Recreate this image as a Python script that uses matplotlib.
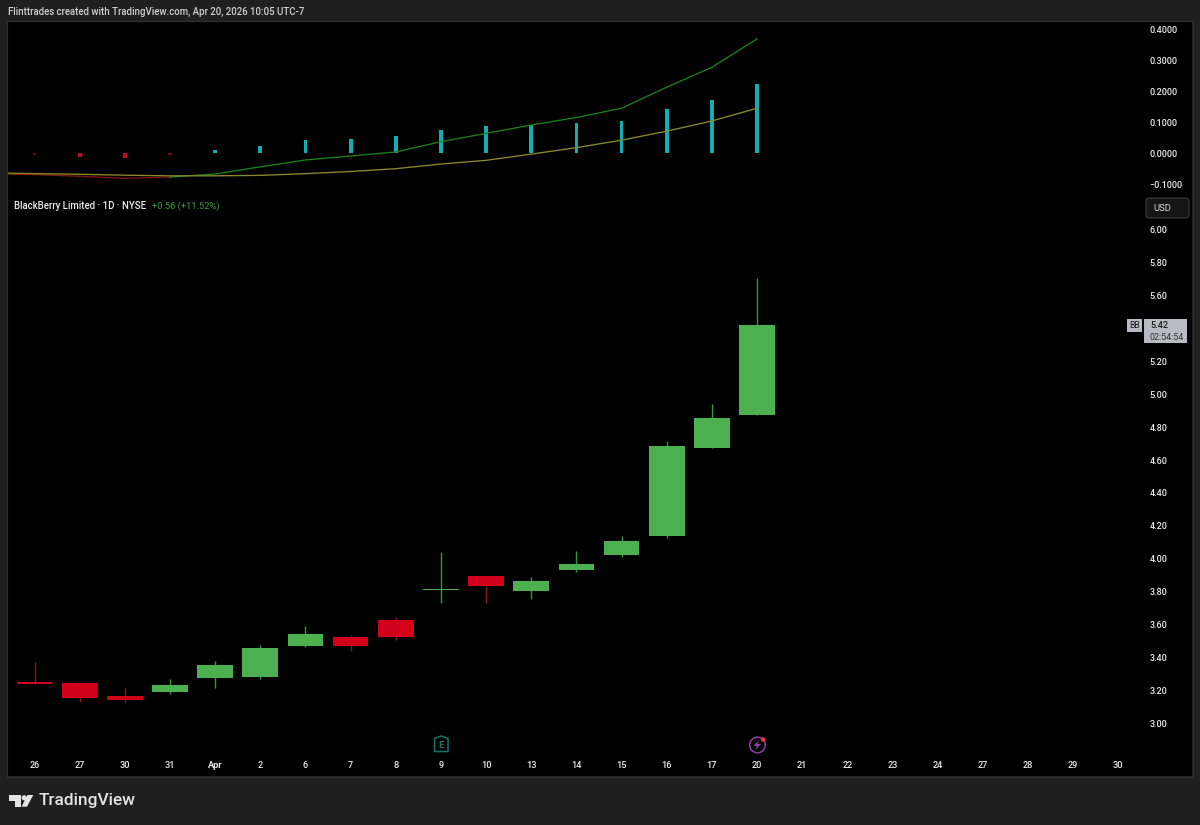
import matplotlib
matplotlib.use("Agg")
import matplotlib.pyplot as plt
from matplotlib.patches import Rectangle, FancyBboxPatch, Polygon, Circle
from matplotlib.transforms import Affine2D

plt.rcParams['font.family'] = ['Roboto', 'DejaVu Sans']

# ---- data ----
date_labels = ['26', '27', '30', '31', 'Apr', '2', '6', '7', '8', '9', '10', '13', '14', '15', '16', '17', '20',
               '21', '22', '23', '24', '27', '28', '29', '30']
opens  = [3.252, 3.244, 3.167, 3.193, 3.274, 3.284, 3.473, 3.525, 3.627, 3.812, 3.898, 3.803, 3.932, 4.025, 4.141, 4.675, 4.874]
closes = [3.240, 3.155, 3.145, 3.234, 3.355, 3.459, 3.545, 3.473, 3.524, 3.818, 3.833, 3.865, 3.967, 4.107, 4.687, 4.857, 5.418]
highs  = [3.375, 3.244, 3.214, 3.268, 3.381, 3.477, 3.592, 3.537, 3.649, 4.040, 3.898, 3.888, 4.048, 4.139, 4.716, 4.938, 5.704]
lows   = [3.240, 3.130, 3.123, 3.179, 3.218, 3.268, 3.467, 3.440, 3.507, 3.730, 3.730, 3.758, 3.920, 4.013, 4.125, 4.675, 4.874]

hist = [-0.004, -0.012, -0.015, -0.005, 0.010, 0.025, 0.0435, 0.048, 0.056, 0.076, 0.089, 0.093, 0.097, 0.105, 0.143, 0.174, 0.225]
hist_colors = ['#6e0a1c', '#c00a2a', '#c00a2a', '#6e0a1c'] + ['#12aeb4'] * 13

line_x = list(range(-1, 17))
signal = [-0.062, -0.065, -0.067, -0.070, -0.072, -0.072, -0.0705, -0.065, -0.058, -0.049, -0.034, -0.022, -0.002,
          0.019, 0.043, 0.072, 0.105, 0.146]
macd = [-0.066, -0.068, -0.0735, -0.080, -0.076, -0.066, -0.043, -0.021, -0.008, 0.005, 0.038, 0.065, 0.092,
        0.116, 0.146, 0.214, 0.278, 0.370]

osc_ticks = [0.4, 0.3, 0.2, 0.1, 0.0, -0.1]
osc_labels = ['0.4000', '0.3000', '0.2000', '0.1000', '0.0000', '\u22120.1000']
price_ticks = [6.0, 5.8, 5.6, 5.2, 5.0, 4.8, 4.6, 4.4, 4.2, 4.0, 3.8, 3.6, 3.4, 3.2, 3.0]

# ---- palette ----
BG = '#1f1f1f'
GREEN = '#4caf50'
RED = '#d2001a'
GREEN_W = '#2f9a38'
RED_W = '#8a1818'
TXT = '#ececec'

W, H = 1200, 825
fig = plt.figure(figsize=(12, 8.25), dpi=100, facecolor=BG)
px = Affine2D().scale(1, -1).translate(0, H)


def axes_px(x0, y0, x1, y1):
    return fig.add_axes([x0 / W, 1 - y1 / H, (x1 - x0) / W, (y1 - y0) / H], facecolor='black')


L, R = 8, 1192
ax_o = axes_px(L, 22, R, 192)
ax_p = axes_px(L, 192, R, 776)

xlim = ((L - 34.5) / 45.16, (R - 34.5) / 45.16)
for ax in (ax_o, ax_p):
    ax.set_xlim(*xlim)
    for s in ax.spines.values():
        s.set_visible(False)
ax_o.set_ylim(-0.1242, 0.4242)
ax_p.set_ylim(2.681, 6.2277)

# oscillator pane
ax_o.bar(range(len(hist)), hist, width=0.085, color=hist_colors, linewidth=0, zorder=2)
ax_o.plot(line_x[:5], macd[:5], color='#7c1410', lw=0.95, zorder=3)
ax_o.plot(line_x[4:], macd[4:], color='#1c7f1c', lw=0.95, zorder=3)
ax_o.plot(line_x, signal, color='#8a8a2a', lw=0.95, zorder=4)
ax_o.set_xticks([])
ax_o.yaxis.tick_right()
ax_o.set_yticks(osc_ticks)
ax_o.set_yticklabels(osc_labels)
ax_o.tick_params(axis='y', length=0, pad=-30.5, labelsize=6.5, labelcolor=TXT)
for t in ax_o.get_yticklabels():
    t.set_ha('left')
    t.set_fontweight('medium')

# price pane
for i, (o, c, h, l) in enumerate(zip(opens, closes, highs, lows)):
    up = c >= o
    ax_p.plot([i, i], [l, h], color=GREEN_W if up else RED_W, lw=1.0, solid_capstyle='butt', zorder=2)
    body_h = abs(c - o)
    ax_p.bar(i, body_h, bottom=min(o, c), width=0.79, color=GREEN if up else RED, linewidth=0, zorder=3)
ax_p.yaxis.tick_right()
ax_p.set_yticks(price_ticks)
ax_p.set_yticklabels([f'{v:.2f}' for v in price_ticks])
ax_p.tick_params(axis='y', length=0, pad=-30.5, labelsize=6.5, labelcolor=TXT)
for t in ax_p.get_yticklabels():
    t.set_ha('left')
    t.set_fontweight('medium')
ax_p.set_xticks(range(len(date_labels)))
ax_p.set_xticklabels(date_labels)
ax_p.tick_params(axis='x', length=0, pad=-11, labelsize=6.6, labelcolor=TXT)
for t in ax_p.get_xticklabels():
    t.set_fontweight('medium')
ax_p.get_xticklabels()[4].set_fontweight('bold')

# frame
fig.add_artist(Rectangle((L - 1, 21), R - L + 2, 756, fill=False, ec='#303030', lw=0.8, transform=px))


def ptext(x, y, s, **kw):
    kw.setdefault('va', 'center')
    kw.setdefault('ha', 'left')
    kw.setdefault('fontsize', 6.6)
    kw.setdefault('color', TXT)
    return fig.text(x / W, 1 - y / H, s, **kw)


ptext(8, 12, 'Flinttrades created with TradingView.com, Apr 20, 2026 10:05 UTC-7', fontsize=6.9, color='#d0d0d0',
      fontweight='medium')
ptext(14, 206, 'BlackBerry Limited \u00b7 1D \u00b7 NYSE', fontsize=6.95, fontweight='medium')
ptext(152, 206, '+0.56 (+11.52%)', fontsize=6.7, color='#3f9a45')

# USD box
fig.add_artist(FancyBboxPatch((1146, 198), 43, 20, boxstyle='round,pad=0,rounding_size=3', fc='#161616', ec='#3a3a3a',
                              lw=0.8, transform=px))
ptext(1153, 208.5, 'USD', fontsize=6.8, color='#d8d8d8')

# last price tag
fig.add_artist(Rectangle((1127, 319), 15, 13, fc='#b8bac4', ec='none', transform=px))
fig.add_artist(Rectangle((1144, 319), 43, 24, fc='#b8bac4', ec='none', transform=px))
ptext(1134.5, 325.7, 'BB', ha='center', fontsize=6.2, color='#1a1a1a')
ptext(1150, 326, '5.42', fontsize=6.6, color='#1a1a1a', fontweight='medium')
ptext(1150, 337, '02:54:54', fontsize=6.4, color='#333333')

# earnings marker
teal = '#11756a'
fig.add_artist(Polygon([(434.5, 738.5), (441.3, 736), (448, 738.5), (448, 751.5), (434.5, 751.5)], closed=True,
                       fill=False, ec=teal, lw=1.1, transform=px))
ptext(441.3, 745, 'E', ha='center', color=teal, fontsize=6.8, fontweight='bold')

# news marker
purple = '#8d3fa8'
fig.add_artist(Circle((757.5, 745), 7.8, fill=False, ec=purple, lw=1.1, transform=px))
fig.add_artist(Polygon([(759, 740), (753.5, 746), (757, 746), (755.5, 750), (761, 744), (757.5, 744)], closed=True,
                       fc=purple, ec='none', transform=px))
fig.add_artist(Circle((763, 739.5), 2.2, fc='#f23645', ec='none', transform=px))

# logo
LOGO = '#e4e4e4'
fig.add_artist(Polygon([(9.3, 795), (21, 795), (21, 806.7), (15, 806.7), (15, 800.5), (9.3, 800.5)], closed=True,
                       fc=LOGO, ec='none', transform=px))
fig.add_artist(Circle((24.2, 797.8), 2.6, fc=LOGO, ec='none', transform=px))
fig.add_artist(Polygon([(27.5, 795), (33.3, 795), (27, 806.7), (21.5, 806.7)], closed=True, fc=LOGO, ec='none',
                       transform=px))
ptext(38.5, 800.5, 'TradingView', fontsize=12.4, color=LOGO, fontweight='medium')

fig.savefig('out.png', dpi=100, facecolor=BG)
